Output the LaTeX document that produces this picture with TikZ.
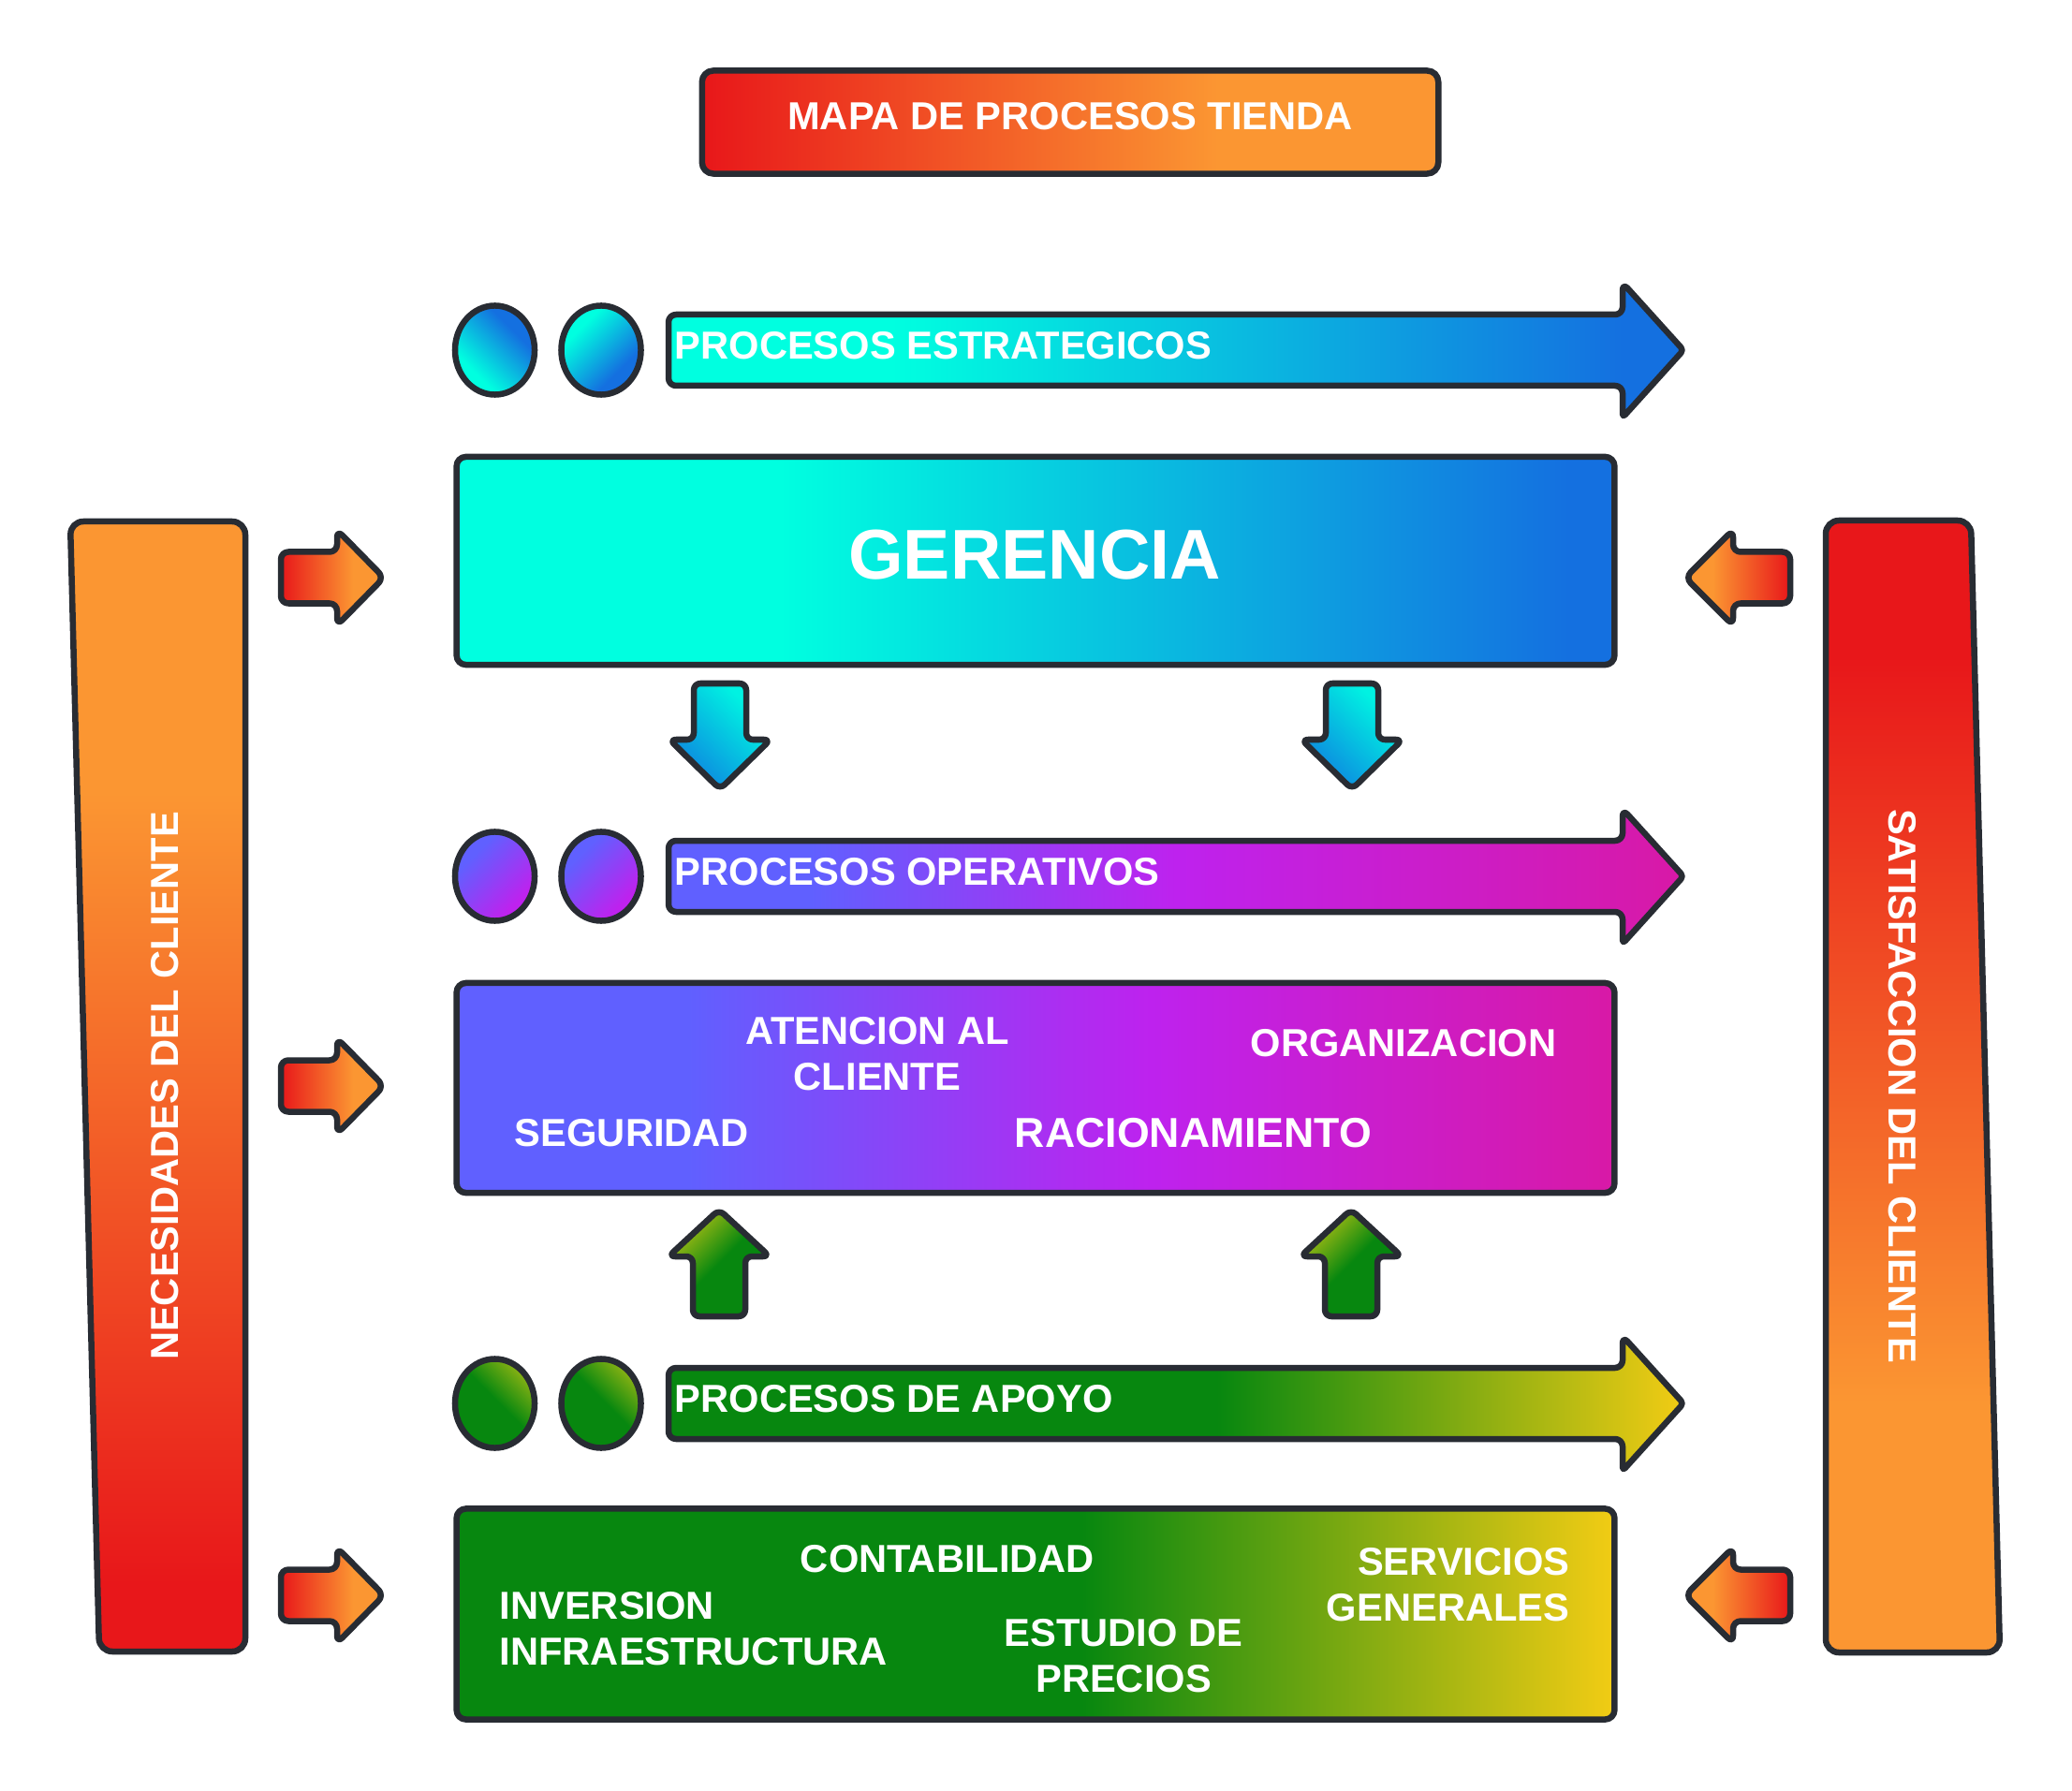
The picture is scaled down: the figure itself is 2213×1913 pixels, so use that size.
\documentclass[tikz,border=0pt]{standalone}
\usepackage{fontspec}
\setmainfont{Liberation Sans}
\usetikzlibrary{shapes.geometric}

% palette
\definecolor{outline}{HTML}{282C33}
\definecolor{mapred}{HTML}{E8171A}
\definecolor{maporange}{HTML}{FB9632}
\definecolor{stcyan}{HTML}{00FFE0}
\definecolor{stblue}{HTML}{1470E0}
\definecolor{dncyan}{HTML}{00F2E2}
\definecolor{dnblue}{HTML}{0C8EE0}
\definecolor{opviolet}{HTML}{6060FF}
\definecolor{oppurple}{HTML}{BE22EE}
\definecolor{opmagenta}{HTML}{D819A6}
\definecolor{apgreen}{HTML}{07870F}
\definecolor{apyellow}{HTML}{F2CC14}
\definecolor{aplime}{HTML}{9CB814}

% gradients (the 25bp..75bp band spans the filled shape)
\pgfdeclarehorizontalshading{titleshade}{100bp}{color(0bp)=(mapred); color(25bp)=(mapred); color(60bp)=(maporange); color(100bp)=(maporange)}
\pgfdeclarehorizontalshading{needshade}{100bp}{color(0bp)=(mapred); color(28bp)=(mapred); color(63bp)=(maporange); color(100bp)=(maporange)}
\pgfdeclarehorizontalshading{satshade}{100bp}{color(0bp)=(maporange); color(36bp)=(maporange); color(69bp)=(mapred); color(100bp)=(mapred)}
\pgfdeclarehorizontalshading{inshade}{100bp}{color(0bp)=(mapred); color(25bp)=(mapred); color(60bp)=(maporange); color(100bp)=(maporange)}
\pgfdeclarehorizontalshading{outshade}{100bp}{color(0bp)=(maporange); color(38bp)=(maporange); color(75bp)=(mapred); color(100bp)=(mapred)}
\pgfdeclarehorizontalshading{stratarrow}{100bp}{color(0bp)=(stcyan); color(36bp)=(stcyan); color(72bp)=(stblue); color(100bp)=(stblue)}
\pgfdeclarehorizontalshading{stratbox}{100bp}{color(0bp)=(stcyan); color(39bp)=(stcyan); color(73bp)=(stblue); color(100bp)=(stblue)}
\pgfdeclarehorizontalshading{stratdot}{100bp}{color(0bp)=(stcyan); color(32bp)=(stcyan); color(66bp)=(stblue); color(100bp)=(stblue)}
\pgfdeclarehorizontalshading{downshade}{100bp}{color(0bp)=(dnblue); color(30bp)=(dnblue); color(70bp)=(dncyan); color(100bp)=(dncyan)}
\pgfdeclarehorizontalshading{oparrow}{100bp}{color(0bp)=(opviolet); color(32bp)=(opviolet); color(50bp)=(oppurple); color(75bp)=(opmagenta); color(100bp)=(opmagenta)}
\pgfdeclarehorizontalshading{opbox}{100bp}{color(0bp)=(opviolet); color(35bp)=(opviolet); color(55bp)=(oppurple); color(75bp)=(opmagenta); color(100bp)=(opmagenta)}
\pgfdeclarehorizontalshading{opdot}{100bp}{color(0bp)=(opviolet); color(32bp)=(opviolet); color(70bp)=(oppurple); color(100bp)=(oppurple)}
\pgfdeclarehorizontalshading{aparrow}{100bp}{color(0bp)=(apgreen); color(52bp)=(apgreen); color(75bp)=(apyellow); color(100bp)=(apyellow)}
\pgfdeclarehorizontalshading{apbox}{100bp}{color(0bp)=(apgreen); color(52bp)=(apgreen); color(75bp)=(apyellow); color(100bp)=(apyellow)}
\pgfdeclarehorizontalshading{apdot}{100bp}{color(0bp)=(apgreen); color(52bp)=(apgreen); color(78bp)=(aplime); color(100bp)=(aplime)}
\pgfdeclarehorizontalshading{upshade}{100bp}{color(0bp)=(aplime); color(28bp)=(aplime); color(50bp)=(apgreen); color(100bp)=(apgreen)}

\tikzset{
  shape line/.style={draw=outline, line width=0.065cm, line join=round},
  label text/.style={text=white, inner sep=0pt,
    font=\bfseries\fontsize{11.85pt}{13.94pt}\selectfont},
  panel/.style={shape line, rectangle, rounded corners=0.1cm, inner sep=0pt,
    minimum width=12.36cm},
  dot/.style={shape line, ellipse, inner sep=0pt, minimum width=0.85cm,
    minimum height=0.95cm},
}

% long process arrow centred on row y=#1
\newcommand\processarrow[2]{%
  \draw[shape line, shading=#2, rounded corners=0.08cm]
    (714,#1-38) -- (1733,#1-38) -- (1733,#1-72) [rounded corners=0.04cm]-- (1798,#1)
    -- (1733,#1+72) [rounded corners=0.08cm]-- (1733,#1+38) -- (714,#1+38) -- cycle;}
% short arrow pointing right, centred on y=#1
\newcommand\inarrow[1]{%
  \draw[shape line, shading=inshade, rounded corners=0.08cm]
    (300,#1-27.5) -- (360,#1-27.5) -- (360,#1-51) -- (410,#1)
    -- (360,#1+51) -- (360,#1+27.5) -- (300,#1+27.5) -- cycle;}
% short arrow pointing left, centred on y=#1
\newcommand\outarrow[1]{%
  \draw[shape line, shading=outshade, rounded corners=0.08cm]
    (1912,#1-27.5) -- (1851,#1-27.5) -- (1851,#1-51) -- (1800,#1)
    -- (1851,#1+51) -- (1851,#1+27.5) -- (1912,#1+27.5) -- cycle;}
% downward arrow at x=#1
\newcommand\flowdown[1]{%
  \draw[shape line, shading=downshade, shading angle=45, rounded corners=0.07cm]
    (#1-28,730) -- (#1+28,730) -- (#1+28,790) -- (#1+54,790) -- (#1,843)
    -- (#1-54,790) -- (#1-28,790) -- cycle;}
% upward arrow at x=#1
\newcommand\flowup[1]{%
  \draw[shape line, shading=upshade, shading angle=-45, rounded corners=0.07cm]
    (#1-28,1406) -- (#1+28,1406) -- (#1+28,1342) -- (#1+54,1342) -- (#1,1292)
    -- (#1-54,1342) -- (#1-28,1342) -- cycle;}

\begin{document}
\begin{tikzpicture}[x=0.01cm, y=-0.01cm]
  \fill[white] (0,0) rectangle (2213,1913);
  \useasboundingbox (0,0) rectangle (2213,1913);

  % title
  \node[shape line, shading=titleshade, rounded corners=0.12cm, inner sep=0pt,
        minimum width=7.86cm, minimum height=1.10cm] (titlebox) at (1143,130.5) {};
  \node[label text] (title) at (1143,124) {MAPA DE PROCESOS TIENDA};

  % side bars
  \draw[shape line, shading=needshade, shading angle=90, rounded corners=0.14cm]
    (75,557) -- (262,557) -- (262,1764) -- (106,1764) -- cycle;
  \node[label text, rotate=90] (need) at (176,1160) {NECESIDADES DEL CLIENTE};
  \draw[shape line, shading=satshade, shading angle=90, rounded corners=0.14cm]
    (1950,556) -- (2105,556) -- (2136,1765) -- (1950,1765) -- cycle;
  \node[label text, rotate=-90] (satis) at (2032,1160) {SATISFACCION DEL CLIENTE};

  % small arrows beside the bars
  \inarrow{617}
  \inarrow{1160}
  \inarrow{1704}
  \outarrow{617}
  \outarrow{1704}

  % strategic processes
  \node[dot, shading=stratdot, shading angle=45] (sdot1) at (528.5,374) {};
  \node[dot, shading=stratdot, shading angle=-45] (sdot2) at (642,374) {};
  \processarrow{374}{stratarrow}
  \node[label text, anchor=west] (strat) at (720,369) {PROCESOS ESTRATEGICOS};

  \node[panel, shading=stratbox, minimum height=2.22cm] (gerbox) at (1106,599) {};
  \node[text=white, inner sep=0pt, font=\bfseries\fontsize{21.4pt}{25pt}\selectfont]
    (gerencia) at (1105,593) {GERENCIA};

  \flowdown{769}
  \flowdown{1444}

  % operative processes
  \node[dot, shading=opdot, shading angle=-45] (odot1) at (528.5,936) {};
  \node[dot, shading=opdot, shading angle=-45] (odot2) at (642,936) {};
  \processarrow{936}{oparrow}
  \node[label text, anchor=west] (oper) at (720,931) {PROCESOS OPERATIVOS};

  \node[panel, shading=opbox, minimum height=2.24cm] (opbox) at (1106,1162) {};
  \node[label text, align=center] (atencion) at (937,1125.5) {ATENCION AL\\CLIENTE};
  \node[label text] (organiz) at (1499,1114) {ORGANIZACION};
  \node[label text] (segur) at (675,1210) {SEGURIDAD};
  \node[label text, font=\bfseries\fontsize{12.7pt}{15pt}\selectfont]
    (racion) at (1274.5,1210) {RACIONAMIENTO};

  \flowup{768}
  \flowup{1443}

  % support processes
  \node[dot, shading=apdot, shading angle=45] (adot1) at (528.5,1499) {};
  \node[dot, shading=apdot, shading angle=45] (adot2) at (642,1499) {};
  \processarrow{1499}{aparrow}
  \node[label text, anchor=west] (apoyo) at (720,1494) {PROCESOS DE APOYO};

  \node[panel, shading=apbox, minimum height=2.25cm] (apbox) at (1106,1724) {};
  \node[label text] (contab) at (1012,1665) {CONTABILIDAD};
  \node[label text, align=right, anchor=east] (servicios) at (1677,1693) {SERVICIOS\\GENERALES};
  \node[label text, align=left, anchor=west] (inversion) at (533,1739.5) {INVERSION\\INFRAESTRUCTURA};
  \node[label text, align=center] (estudio) at (1200,1769) {ESTUDIO DE\\PRECIOS};
\end{tikzpicture}
\end{document}
